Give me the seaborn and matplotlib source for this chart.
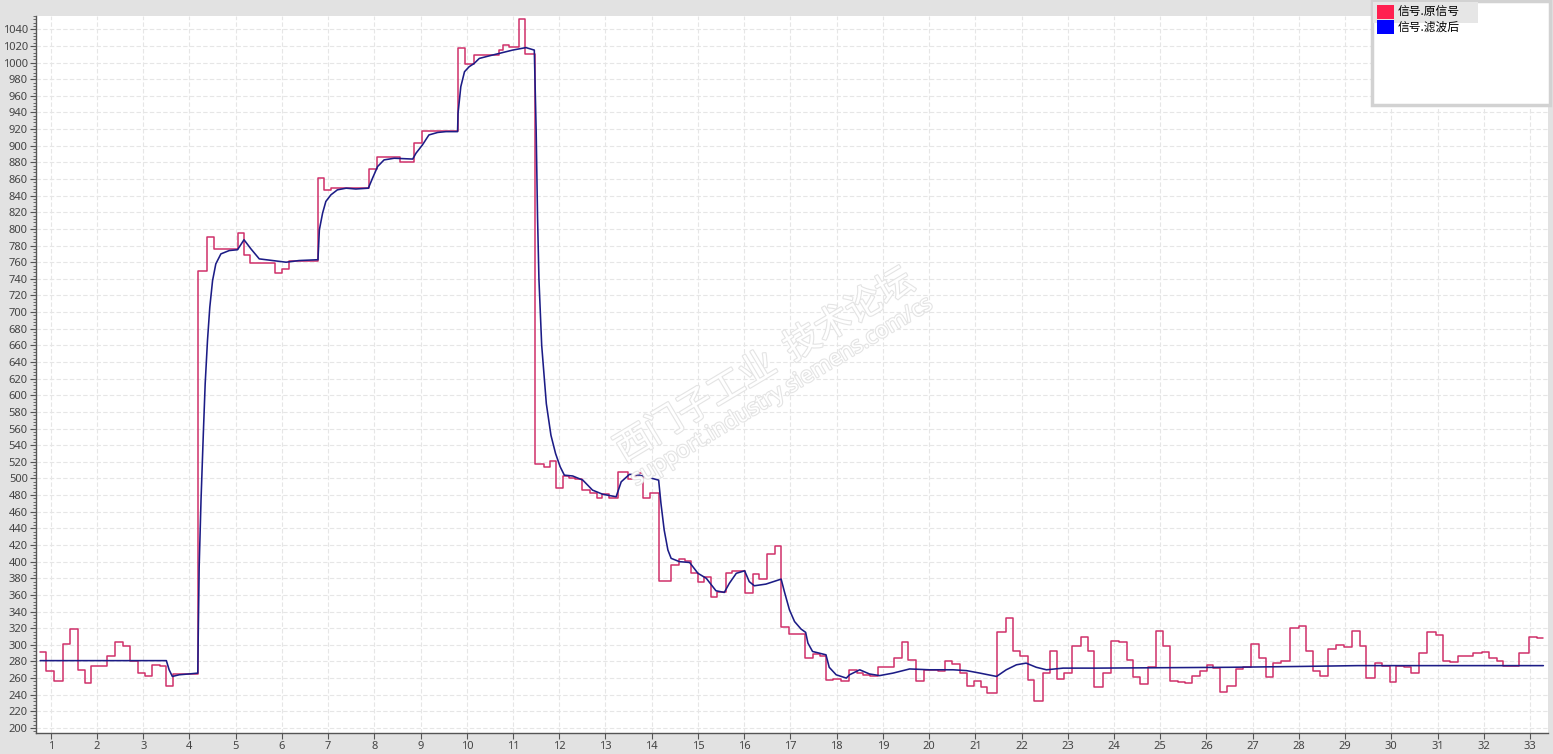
import numpy as np
import pandas as pd
import matplotlib
matplotlib.use("Agg")
import matplotlib.pyplot as plt
from matplotlib.patches import Rectangle, Patch
from matplotlib.ticker import MultipleLocator
import matplotlib.patheffects as pe
import seaborn as sns

# ---------------- data ----------------
raw_x = [0.77, 0.90, 1.06, 1.27, 1.42, 1.58, 1.73, 1.88, 2.22, 2.39, 2.57, 2.72, 2.88, 3.03,
         3.20, 3.37, 3.50, 3.65, 4.18, 4.38, 4.52, 5.05, 5.18, 5.31, 5.85, 6.00, 6.16, 6.78,
         6.92, 7.06, 7.89, 8.05, 8.56, 8.86, 9.04, 9.80, 9.96, 10.15, 10.69, 10.79, 10.92,
         11.12, 11.25, 11.48, 11.66, 11.80, 11.93, 12.09, 12.22, 12.35, 12.49, 12.67, 12.81,
         12.93, 13.07, 13.27, 13.48, 13.66, 13.82, 13.97, 14.15, 14.42, 14.58, 14.71, 14.85,
         15.01, 15.14, 15.29, 15.42, 15.60, 15.74, 16.02, 16.19, 16.32, 16.49, 16.66, 16.80,
         16.98, 17.32, 17.48, 17.63, 17.77, 17.93, 18.10, 18.26, 18.44, 18.57, 18.73, 18.90,
         19.25, 19.42, 19.54, 19.71, 19.89, 20.19, 20.35, 20.50, 20.66, 20.83, 20.97, 21.12,
         21.25, 21.47, 21.66, 21.81, 21.97, 22.14, 22.28, 22.46, 22.62, 22.77, 22.93, 23.10,
         23.29, 23.44, 23.57, 23.76, 23.94, 24.12, 24.28, 24.41, 24.56, 24.74, 24.92, 25.06,
         25.21, 25.39, 25.53, 25.68, 25.86, 26.02, 26.14, 26.29, 26.45, 26.63, 26.79, 26.97,
         27.13, 27.28, 27.43, 27.62, 27.80, 28.00, 28.15, 28.31, 28.45, 28.64, 28.81, 28.97,
         29.15, 29.33, 29.45, 29.64, 29.79, 29.97, 30.11, 30.27, 30.42, 30.60, 30.78, 30.96,
         31.11, 31.28, 31.45, 31.77, 31.97, 32.12, 32.28, 32.42, 32.62, 32.77, 32.98, 33.16,
         33.29]
raw_y = [291, 268, 257, 301, 319, 270, 254, 274, 286, 303, 298, 280, 266, 263,
         276, 275, 250, 265, 750, 790, 776, 795, 769, 759, 747, 752, 762, 861,
         847, 849, 872, 886, 881, 903, 918, 1017, 998, 1009, 1015, 1021, 1019,
         1052, 1010, 517, 514, 521, 488, 503, 501, 499, 486, 482, 476,
         481, 477, 508, 499, 506, 476, 483, 377, 396, 403, 401, 386,
         375, 381, 358, 363, 386, 389, 362, 385, 379, 409, 419, 321,
         313, 284, 289, 287, 258, 259, 257, 270, 266, 264, 262, 273,
         284, 304, 282, 256, 270, 268, 280, 277, 266, 250, 256, 249,
         242, 315, 332, 292, 286, 258, 232, 266, 293, 259, 266, 299,
         310, 292, 249, 266, 305, 304, 282, 261, 253, 273, 317, 299,
         257, 255, 254, 263, 269, 276, 272, 243, 250, 271, 273, 301,
         284, 261, 278, 281, 320, 323, 292, 268, 262, 295, 300, 297,
         317, 299, 260, 278, 275, 255, 275, 273, 266, 290, 315, 312,
         281, 279, 286, 290, 291, 284, 280, 275, 274, 290, 309, 308,
         308]

filt_x = [0.77, 3.50, 3.56, 3.63, 3.78, 3.99, 4.18, 4.19, 4.21, 4.25, 4.30, 4.34, 4.39, 4.44,
          4.50, 4.57, 4.68, 4.86, 5.04, 5.18, 5.33, 5.51, 5.80, 6.09, 6.37, 6.78, 6.79, 6.81,
          6.88, 6.95, 7.06, 7.20, 7.39, 7.60, 7.87, 7.96, 8.07, 8.21, 8.43, 8.83, 8.90, 9.04,
          9.18, 9.37, 9.55, 9.80, 9.81, 9.87, 9.95, 10.05, 10.16, 10.27, 10.48, 10.70, 10.99,
          11.28, 11.46, 11.50, 11.53, 11.56, 11.62, 11.72, 11.82, 11.92, 12.02, 12.11, 12.29,
          12.51, 12.72, 12.94, 13.23, 13.34, 13.52, 13.73, 13.95, 14.15, 14.20, 14.27, 14.35,
          14.42, 14.60, 14.82, 15.00, 15.18, 15.39, 15.57, 15.68, 15.83, 16.01, 16.11, 16.22,
          16.47, 16.80, 16.87, 16.98, 17.09, 17.23, 17.33, 17.38, 17.48, 17.77, 17.84, 17.99,
          18.21, 18.28, 18.50, 18.71, 18.93, 19.22, 19.58, 20.01, 20.52, 20.81, 21.10, 21.46,
          21.67, 21.89, 22.10, 22.32, 22.54, 22.90, 23.62, 26.50, 28.02, 29.26, 33.29]
filt_y = [281, 281, 270, 262, 264, 265, 266, 313, 394, 474, 554, 614, 666, 706,
          738, 758, 770, 774, 775, 787, 776, 764, 762, 760, 762, 763, 775, 799,
          819, 833, 841, 847, 849, 848, 849, 861, 875, 883, 885, 884, 891, 901,
          913, 916, 917, 917, 939, 971, 989, 995, 999, 1005, 1008, 1011, 1015,
          1018, 1015, 919, 815, 740, 660, 590, 552, 530, 514, 504, 503,
          498, 486, 481, 478, 496, 505, 504, 501, 498, 470, 438, 414,
          404, 400, 399, 386, 380, 365, 363, 374, 386, 389, 376, 371,
          373, 379, 364, 342, 328, 319, 315, 302, 292, 288, 273, 264,
          260, 264, 270, 265, 263, 266, 271, 270, 270, 269, 266, 262,
          270, 276, 278, 273, 270, 272, 272, 273, 274, 275, 275]

x_ticks = list(range(1, 34))
y_ticks = list(range(200, 1041, 20))
series_names = ["信号.原信号", "信号.滤波后"]
legend_colors = ["#ff2050", "#0000ff"]
line_colors = ["#d0306a", "#1c1c86"]

# ---------------- figure ----------------
sns.set_theme(style="white")
plt.rcParams["font.family"] = ["Noto Sans", "Noto Sans CJK SC", "DejaVu Sans"]

W, H = 1553, 754
fig = plt.figure(figsize=(W / 100, H / 100), dpi=100, facecolor="#e2e2e2")
ax = fig.add_axes([36 / W, 1 - 733 / H, (1548 - 36) / W, (733 - 16) / H])
ax.set_facecolor("white")

df_raw = pd.DataFrame({"x": raw_x, "y": raw_y})
df_filt = pd.DataFrame({"x": filt_x, "y": filt_y})

sns.lineplot(data=df_raw, x="x", y="y", ax=ax, color=line_colors[0], lw=1.1,
             drawstyle="steps-post", estimator=None, sort=False, zorder=3)
sns.lineplot(data=df_filt, x="x", y="y", ax=ax, color=line_colors[1], lw=1.15,
             estimator=None, sort=False, zorder=4)

ax.set_xlim(0.68, 33.39)
ax.set_ylim(194, 1056)
ax.set_xticks(x_ticks)
ax.set_yticks(y_ticks)
ax.yaxis.set_minor_locator(MultipleLocator(4))
ax.set_xlabel("")
ax.set_ylabel("")

ax.grid(True, which="major", axis="both", color="#e6e6e6", lw=0.8, ls=(0, (4, 2)))
ax.set_axisbelow(True)

for s in ["top", "right"]:
    ax.spines[s].set_visible(False)
for s in ["left", "bottom"]:
    ax.spines[s].set_visible(True)
    ax.spines[s].set_color("#555555")
    ax.spines[s].set_linewidth(1.0)

ax.tick_params(axis="both", which="major", direction="out", length=4, width=0.8,
               color="#555555", labelsize=8, labelcolor="#444444", pad=2,
               left=True, bottom=True)
ax.tick_params(axis="y", which="minor", direction="out", length=2, width=0.6,
               color="#555555", left=True)

# watermark (hollow light-gray lettering)
outline = [pe.withStroke(linewidth=1.6, foreground="#e4e4e4")]
fig.text(765 / W, 1 - 366 / H, "西门子工业  技术论坛", rotation=31, fontsize=26,
         color="white", ha="center", va="center", zorder=2, path_effects=outline,
         family=["Noto Sans CJK SC", "DejaVu Sans"])
fig.text(782 / W, 1 - 392 / H, "support.industry.siemens.com/cs", rotation=31,
         fontsize=16, color="white", ha="center", va="center", zorder=2,
         path_effects=outline)

# legend box
fig.patches.append(Rectangle((1372 / W, 1 - 105 / H), (1550 - 1372) / W, (105 - 1) / H,
                             transform=fig.transFigure, facecolor="white",
                             edgecolor="#d2d2d2", lw=2.5, zorder=5))
fig.patches.append(Rectangle((1373 / W, 1 - 23 / H), (1478 - 1373) / W, 21 / H,
                             transform=fig.transFigure, facecolor="#e6e6e6",
                             edgecolor="none", zorder=6))
handles = [Patch(facecolor=c, edgecolor="none") for c in legend_colors]
leg = fig.legend(handles, series_names, loc="upper left",
                 bbox_to_anchor=(1373 / W, 1 - 1 / H), frameon=False,
                 fontsize=8.5, handlelength=1.45, handleheight=1.45,
                 handletextpad=0.35, labelspacing=0.12, borderpad=0.3,
                 borderaxespad=0)
leg.set_zorder(7)
for t in leg.get_texts():
    t.set_color("black")
    t.set_family(["Noto Sans CJK SC", "DejaVu Sans"])

fig.savefig("out.png", dpi=100, facecolor=fig.get_facecolor())
